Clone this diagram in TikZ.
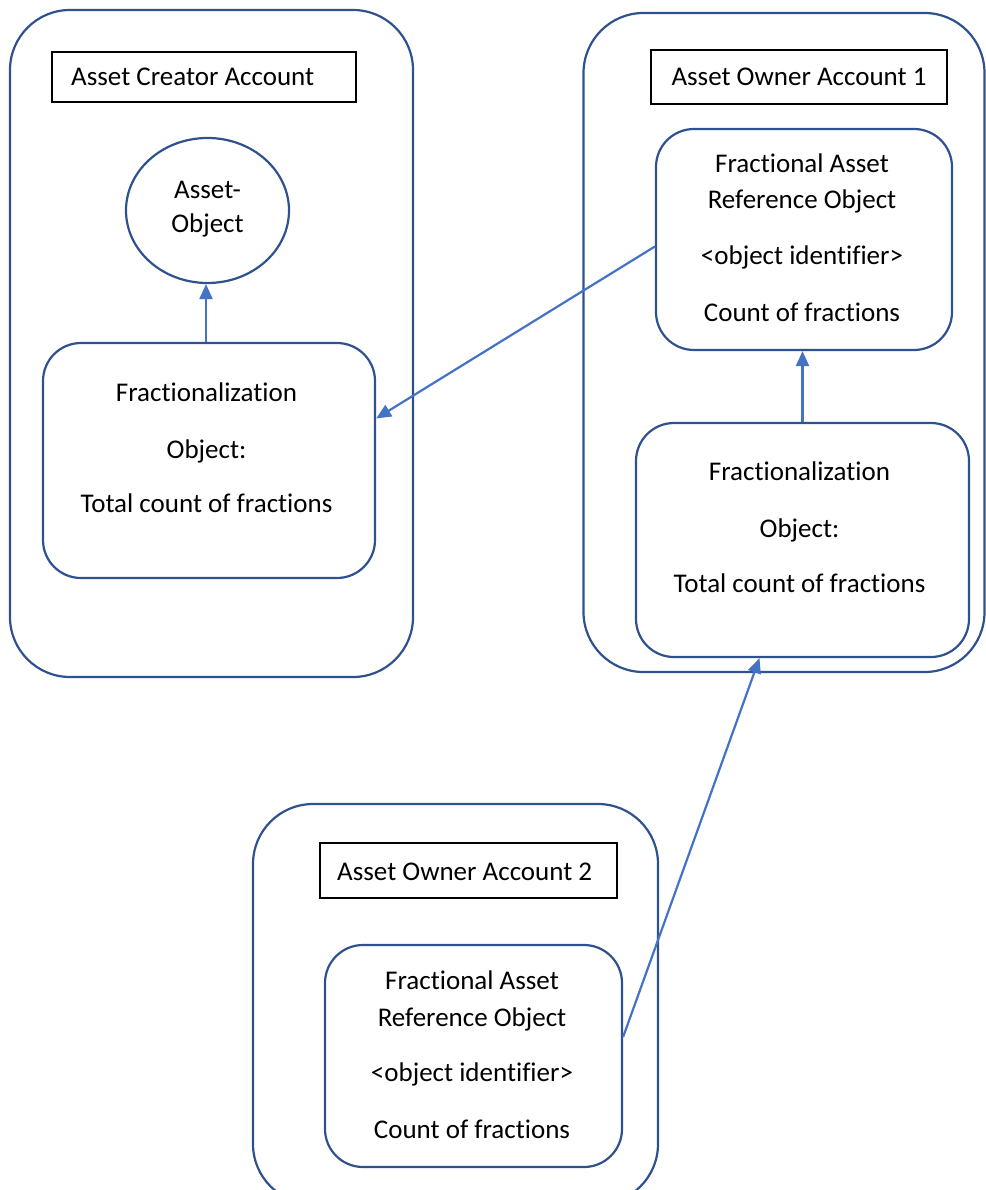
\documentclass[tikz,border=0pt]{standalone}
\usepackage{fontspec}
\setmainfont{Carlito}[Ligatures={NoCommon,NoContextual}]
\usetikzlibrary{arrows.meta,shapes.geometric}

\definecolor{boxblue}{RGB}{47,82,143}
\definecolor{arrowblue}{RGB}{68,114,196}

\tikzset{
  account/.style={draw=boxblue, line width=2.2pt, rounded corners=60pt,
    inner sep=0pt, minimum width=#1},
  objbox/.style={draw=boxblue, line width=2.2pt, rounded corners=38pt,
    inner sep=0pt},
  header/.style={draw=black, line width=1.8pt, inner sep=0pt,
    font=\fontsize{27pt}{32pt}\selectfont},
  txt/.style={anchor=base, inner sep=0pt, font=\fontsize{27pt}{32pt}\selectfont},
  link/.style={draw=arrowblue, line width=2.2pt,
    -{Triangle[length=15pt,width=13pt]}},
}

\begin{document}
\begin{tikzpicture}[x=1pt,y=-1pt]
  \useasboundingbox (0,0) rectangle (985,1190);

  % account frames
  \node[account=403pt, minimum height=667pt] (creator) at (211.5,343.5) {};
  \node[account=401pt, minimum height=659pt] (owner1) at (784,342.5) {};
  \node[account=405pt, minimum height=400pt] (owner2) at (455.5,1004) {};

  % account headers
  \node[header, minimum width=304pt, minimum height=50pt] (hcreator) at (204,77) {};
  \node[txt, anchor=base west] (tcreator) at (71,86) {Asset Creator Account};
  \node[header, minimum width=296pt, minimum height=54pt] (howner1) at (799,77) {};
  \node[txt] (towner1) at (799,86) {Asset Owner Account 1};
  \node[header, minimum width=297pt, minimum height=55pt] (howner2) at (468.5,870.5) {};
  \node[txt, anchor=base west] (towner2) at (337,880) {Asset Owner Account 2};

  % asset object
  \node[ellipse, draw=boxblue, line width=2.2pt, minimum width=163pt,
        minimum height=145pt, inner sep=0pt] (asset) at (207.5,210.5) {};
  \node[txt] (asset1) at (207.5,199) {Asset-};
  \node[txt] (asset2) at (207.5,233) {Object};

  % fractionalization objects
  \node[objbox, minimum width=332pt, minimum height=235pt] (frac1) at (209,460.5) {};
  \node[txt] (f1a) at (206.5,401) {Fractionalization};
  \node[txt] (f1b) at (206.5,458) {Object:};
  \node[txt] (f1c) at (206.5,512) {Total count of fractions};

  \node[objbox, minimum width=333pt, minimum height=234pt] (frac2) at (802.5,540) {};
  \node[txt] (f2a) at (799.5,480) {Fractionalization};
  \node[txt] (f2b) at (799.5,537) {Object:};
  \node[txt] (f2c) at (799.5,592) {Total count of fractions};

  % fractional asset reference objects
  \node[objbox, minimum width=296pt, minimum height=221pt] (ref1) at (804,239.5) {};
  \node[txt] (r1a) at (802,173) {Fractional Asset};
  \node[txt] (r1b) at (802,209) {Reference Object};
  \node[txt] (r1c) at (802,265) {<object identifier>};
  \node[txt] (r1d) at (802,321) {Count of fractions};

  \node[objbox, minimum width=297pt, minimum height=222pt] (ref2) at (473.5,1056) {};
  \node[txt] (r2a) at (472,989) {Fractional Asset};
  \node[txt] (r2b) at (472,1026) {Reference Object};
  \node[txt] (r2c) at (472,1081) {<object identifier>};
  \node[txt] (r2d) at (472,1138) {Count of fractions};

  % references between objects
  \draw[link] ([xshift=-3pt]frac1.north) -- ([xshift=-3pt]frac1.north |- asset.south);
  \draw[link] (frac2.north) -- (frac2.north |- ref1.south);
  \draw[link] ([yshift=-7pt]ref1.west) -- ([yshift=42pt]frac1.east);
  \draw[link] ([yshift=19pt]ref2.east) -- ([xshift=-43pt]frac2.south);
\end{tikzpicture}
\end{document}
